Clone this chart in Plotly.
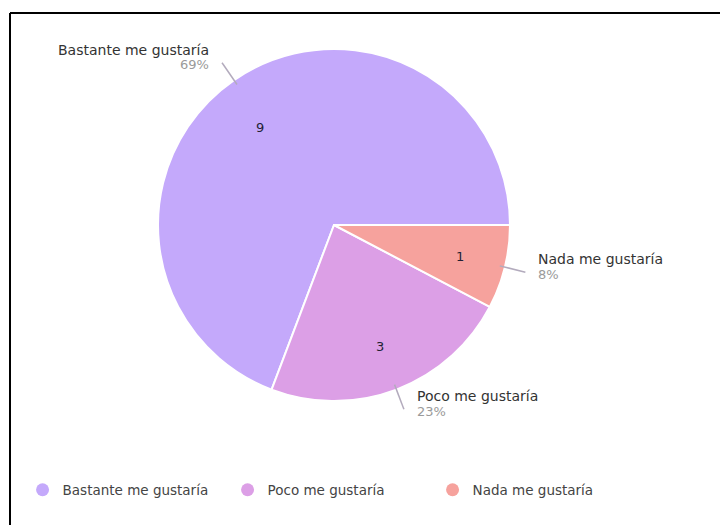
import math
import plotly.graph_objects as go

labels = ["Bastante me gustaría", "Poco me gustaría", "Nada me gustaría"]
values = [9, 3, 1]
colors = ["#c4a9fb", "#dc9fe6", "#f6a29d"]

W, H = 728, 525
# page shows the figure offset by the body margin (8px); geometry in figure pixels
CX, CY, R = 326, 217, 176
FONT = "DejaVu Sans"

total = sum(values)
# first slice starts at 3 o'clock and runs counterclockwise
rot = 90 - 360 * values[0] / total

fig = go.Figure()
fig.add_trace(go.Pie(
    labels=labels, values=values, sort=False,
    direction="counterclockwise", rotation=rot,
    marker=dict(colors=colors, line=dict(color="white", width=2)),
    textinfo="none", hoverinfo="label+value+percent",
    showlegend=False,
    domain=dict(x=[(CX - R) / W, (CX + R) / W], y=[1 - (CY + R) / H, 1 - (CY - R) / H]),
))

# legend entries as circles
for lab, col in zip(labels, colors):
    fig.add_trace(go.Scatter(x=[None], y=[None], mode="markers", name=lab,
                             marker=dict(color=col, size=13, symbol="circle")))

annotations = []
shapes = []
cum = 0
for lab, v, col in zip(labels, values, colors):
    th = 2 * math.pi * (cum + v / 2) / total
    cum += v
    c, s = math.cos(th), math.sin(th)

    def pt(f):
        return CX + R * f * c, CY - R * f * s

    ix, iy = pt(0.74)
    annotations.append(dict(x=ix / W, y=1 - iy / H, xref="paper", yref="paper", text=str(v),
                            showarrow=False, font=dict(family=FONT, size=13, color="#221f33")))
    sx, sy = pt(0.97)
    ex, ey = pt(1.12)
    shapes.append(dict(type="line", xref="paper", yref="paper", x0=sx / W, y0=1 - sy / H,
                       x1=ex / W, y1=1 - ey / H, line=dict(color="#b3abbd", width=1.5)))
    pct = round(100 * v / total)
    side = "right" if c < 0 else "left"
    tx = ex - 11 if c < 0 else ex + 11
    annotations.append(dict(x=tx / W, y=1 - (ey - 13) / H, xref="paper", yref="paper", text=lab,
                            showarrow=False, xanchor=side, yanchor="middle",
                            font=dict(family=FONT, size=14, color="#333333")))
    annotations.append(dict(x=tx / W, y=1 - (ey + 2) / H, xref="paper", yref="paper", text=f"{pct}%",
                            showarrow=False, xanchor=side, yanchor="middle",
                            font=dict(family=FONT, size=13, color="#9a9a9a")))

# frame border (top and left edges)
shapes.append(dict(type="line", xref="paper", yref="paper", x0=2 / W, y0=1 - 5 / H, x1=1.02, y1=1 - 5 / H,
                   line=dict(color="black", width=2)))
shapes.append(dict(type="line", xref="paper", yref="paper", x0=2 / W, y0=1 - 5 / H, x1=2 / W, y1=-0.02,
                   line=dict(color="black", width=2)))

fig.update_layout(
    width=W, height=H,
    margin=dict(l=0, r=0, t=0, b=0),
    paper_bgcolor="white", plot_bgcolor="white",
    xaxis=dict(visible=False), yaxis=dict(visible=False),
    showlegend=True,
    legend=dict(orientation="h", x=0.02, y=1 - 482 / H, xanchor="left", yanchor="middle",
                font=dict(family=FONT, size=13.5, color="#444444"), itemsizing="trace",
                entrywidth=160, entrywidthmode="pixels"),
    annotations=annotations, shapes=shapes,
)

fig.write_html("out.html")
